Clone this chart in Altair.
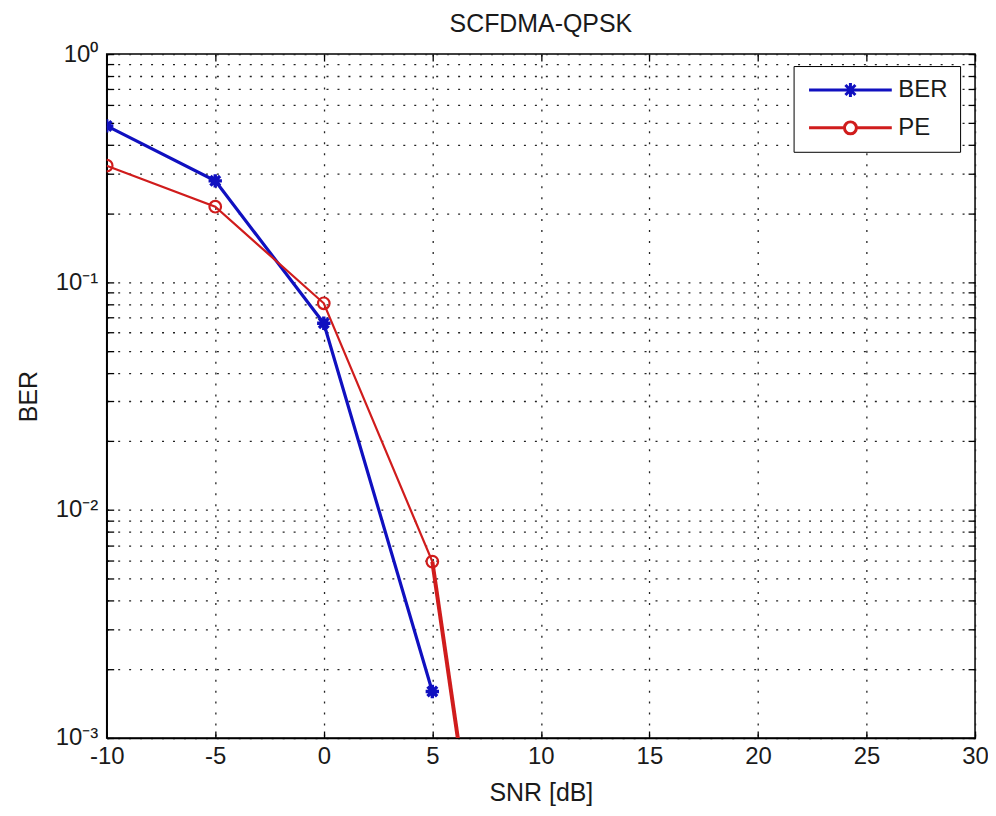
import altair as alt
import pandas as pd

# ---- data ----
snr_ber = [-10, -5, 0, 5]
ber = [0.484, 0.278, 0.066, 0.0016]
snr_pe = [-10, -5, 0, 5, 10]
pe = [0.324, 0.214, 0.0807, 0.00594, 0.000003]

x_ticks = [-10, -5, 0, 5, 10, 15, 20, 25, 30]
y_decades = [0.001, 0.01, 0.1]
series = ["BER", "PE"]
colors = ["#1010c0", "#d01c1c"]

df = pd.DataFrame({
    "snr": snr_ber + snr_pe,
    "value": ber + pe,
    "series": ["BER"] * len(ber) + ["PE"] * len(pe),
})

y_values = [m * d for d in y_decades for m in range(1, 10)] + [1]

FONT = "Liberation Sans"
TXT = "#1a1a1a"

STAR = "M-1,0H1M0,-1V1M-0.72,-0.72L0.72,0.72M-0.72,0.72L0.72,-0.72"
LEG_STAR = "M-4.15,0H4.15M-0.7,0H0.7M0,-0.7V0.7M-0.5,-0.5L0.5,0.5M-0.5,0.5L0.5,-0.5"
LEG_CIRC = "M-4.15,0H-0.6M0.6,0H4.15M-0.6,0A0.6,0.6,0,1,1,0.6,0A0.6,0.6,0,1,1,-0.6,0Z"

label_expr = (
    "abs(log(datum.value)/LN10 - round(log(datum.value)/LN10)) > 0.001 ? '' : "
    "round(log(datum.value)/LN10) == 0 ? '10\u2070' : "
    "round(log(datum.value)/LN10) == -1 ? '10\u207b\u00b9' : "
    "round(log(datum.value)/LN10) == -2 ? '10\u207b\u00b2' : '10\u207b\u00b3'"
)

x_scale = alt.Scale(domain=[-10, 30], nice=False, zero=False)
y_scale = alt.Scale(type="log", domain=[0.001, 1], nice=False)

x_main = alt.X("snr:Q", scale=x_scale, axis=alt.Axis(
    values=x_ticks, title="SNR [dB]", grid=True, tickSize=alt.ExprRef(expr="-7"),
    labelPadding=14, titlePadding=12, labelExpr="'' + datum.value",
    labelFlush=False))
y_main = alt.Y("value:Q", scale=y_scale, axis=alt.Axis(
    values=y_values, labelExpr=label_expr, title="BER", grid=True,
    tickSize=alt.ExprRef(expr="-7"), labelPadding=16, titlePadding=14,
    labelFlush=False))

base = alt.Chart(df)

ber_line = base.transform_filter("datum.series == 'BER'").mark_line(
    color=colors[0], strokeWidth=3.2, clip=True).encode(x=x_main, y=y_main)
pe_line = base.transform_filter("datum.series == 'PE'").mark_line(
    color=colors[1], strokeWidth=2.2, clip=True).encode(x=x_main, y=y_main)
pe_tail = base.transform_filter("datum.series == 'PE' && datum.snr >= 5").mark_line(
    color=colors[1], strokeWidth=4, clip=True).encode(x=x_main, y=y_main)
ber_pts = base.transform_filter("datum.series == 'BER'").mark_point(
    shape=STAR, size=180, filled=False, strokeWidth=3.4, color=colors[0],
    opacity=1, clip=True).encode(x=x_main, y=y_main)
pe_pts = base.transform_filter("datum.series == 'PE'").mark_point(
    shape="circle", size=135, filled=False, strokeWidth=2.2, color=colors[1],
    opacity=1, clip=True).encode(x=x_main, y=y_main)

leg = dict(title=None, orient="none", legendX=689, legendY=12,
           symbolSize=400, symbolStrokeWidth=3, symbolOffset=33,
           symbolOpacity=1,
           labelOffset=36, padding=12, rowPadding=13,
           fillColor="white", strokeColor="black",
           labelFont=FONT, labelFontSize=24, labelColor=TXT)

legend_layer = base.transform_filter("false").mark_point(filled=False, opacity=1).encode(
    x=alt.X("snr:Q", scale=x_scale),
    y=alt.Y("value:Q", scale=y_scale),
    color=alt.Color("series:N", scale=alt.Scale(domain=series, range=colors),
                    legend=alt.Legend(**leg)),
    shape=alt.Shape("series:N", scale=alt.Scale(domain=series, range=[LEG_STAR, LEG_CIRC]),
                    legend=alt.Legend(**leg)),
)

mirror = base.transform_filter("false").mark_point().encode(
    x=alt.X("snr:Q", scale=x_scale, axis=alt.Axis(
        orient="top", values=x_ticks, labels=False, title=None, grid=False,
        domain=False, tickSize=alt.ExprRef(expr="-7"))),
    y=alt.Y("value:Q", scale=y_scale, axis=alt.Axis(
        orient="right", values=y_values, labels=False, title=None, grid=False,
        domain=False, tickSize=alt.ExprRef(expr="-7"))),
)

main = alt.layer(ber_line, pe_line, pe_tail, ber_pts, pe_pts, legend_layer)

chart = alt.layer(main, mirror).resolve_axis(x="independent", y="independent").properties(
    width=871, height=686,
    background="white",
    autosize=alt.AutoSizeParams(type="none"),
    padding={"left": 99, "top": 45, "right": 13, "bottom": 69},
    title=alt.Title("SCFDMA-QPSK", font=FONT, fontSize=25, fontWeight="normal",
                    color=TXT, offset=5, anchor="middle"),
).configure_view(
    stroke="black", strokeWidth=1.5
).configure_axis(
    labelFont=FONT, titleFont=FONT, labelFontSize=24, titleFontSize=25,
    titleFontWeight="normal", labelColor=TXT, titleColor=TXT,
    domainColor="black", domainWidth=1.5, tickColor="black", tickWidth=1.3,
    gridColor="#222222", gridDash=[2, 9], gridWidth=1.3, gridOpacity=1,
)

chart.save("out.html", embed_options={"renderer": "svg", "actions": False})
